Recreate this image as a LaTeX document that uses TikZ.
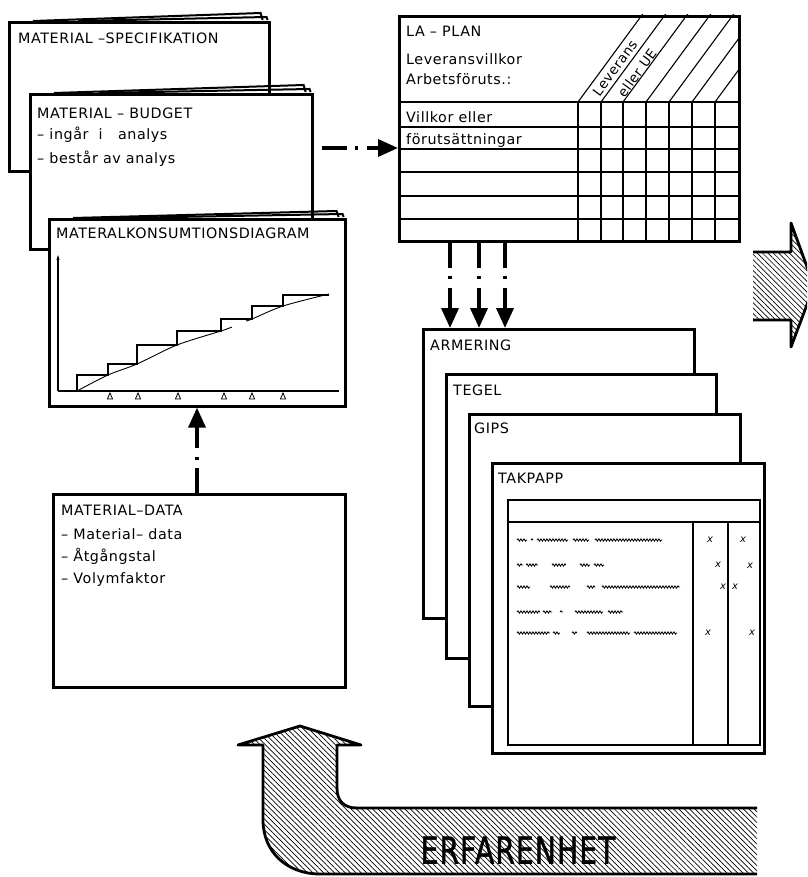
\documentclass[tikz,border=0pt]{standalone}
\usepackage{fontspec}
\setmainfont{DejaVu Sans}[LetterSpace=4]
\usetikzlibrary{arrows.meta,positioning,calc,patterns.meta,decorations.pathmorphing}

\begin{document}
\begin{tikzpicture}[x=1pt,y=-1pt,
  font=\fontsize{14.3}{16}\selectfont,>={Triangle[length=20pt,width=17pt]},
  sheet/.style={draw,line width=2.6pt,fill=white,anchor=north west,inner sep=0pt},
  back/.style={line width=2pt},
  lbl/.style={anchor=base west,inner sep=0pt},
  grid/.style={line width=1.1pt},
  flow/.style={->,line width=3.6pt,dash pattern=on 25pt off 8pt on 3pt off 9pt on 300pt off 1pt},
  hatch/.style={pattern={Lines[angle=-45,distance=3.8pt,line width=0.7pt]}},
  rim/.style={line width=2.8pt,line join=round},
  scrib/.style={line width=0.8pt,decorate,decoration={snake,amplitude=1.2pt,segment length=3pt}},
  tick/.style={font=\fontsize{10}{10}\selectfont\itshape,inner sep=0pt}]

\useasboundingbox (0,0) rectangle (807,877);
\clip (0,0) rectangle (807,877);

% left column, sheets from back to front
\node[sheet,minimum width=260pt,minimum height=149pt] (spec) at (8,21) {};
\draw[back] ([xshift=25pt]spec.north west) -- ([xshift=-10pt,yshift=8pt]spec.north east) -- ([xshift=-8pt,yshift=1pt]spec.north east);
\draw[back] ([xshift=70pt]spec.north west) -- ([xshift=-4pt,yshift=4pt]spec.north east) -- ([xshift=-3pt,yshift=1pt]spec.north east);
\node[lbl] (spec-t) at ($(spec.north west)+(10,23)$) {MATERIAL --SPECIFIKATION};

\node[sheet,minimum width=282pt,minimum height=155pt] (budget) at (29,93) {};
\draw[back] ([xshift=25pt]budget.north west) -- ([xshift=-10pt,yshift=8pt]budget.north east) -- ([xshift=-8pt,yshift=1pt]budget.north east);
\draw[back] ([xshift=70pt]budget.north west) -- ([xshift=-4pt,yshift=4pt]budget.north east) -- ([xshift=-3pt,yshift=1pt]budget.north east);
\node[lbl] (bud-t) at ($(budget.north west)+(8,26)$) {MATERIAL -- BUDGET};
\node[lbl] (bud-1) at ($(budget.north west)+(8,47)$) {-- ingår~ i~~ analys};
\node[lbl] (bud-2) at ($(budget.north west)+(8,71)$) {-- består av analys};

\node[sheet,minimum width=296pt,minimum height=187pt] (diag) at (48,218) {};
\draw[back] ([xshift=25pt]diag.north west) -- ([xshift=-10pt,yshift=7pt]diag.north east) -- ([xshift=-8pt,yshift=1pt]diag.north east);
\draw[back] ([xshift=70pt]diag.north west) -- ([xshift=-4pt,yshift=4pt]diag.north east) -- ([xshift=-3pt,yshift=1pt]diag.north east);
\node[lbl] (diag-t) at ($(diag.north west)+(8,20)$) {MATERALKONSUMTIONSDIAGRAM};
\begin{scope}[shift={(diag.north west)},line width=1.1pt]
  \draw[-{Stealth[length=5pt,width=3pt]}] (10,173) -- (10,37);
  \draw (10,173) -- (291,173);
  \draw (29,173) |- (60,157) |- (89,146) |- (129,127) |- (173,113) |- (204,101) |- (235,88) |- (281,77);
  \draw[line width=0.9pt] plot[smooth] coordinates {(29,173) (60,157) (89,146) (129,127) (173,113) (184,109)};
  \draw[line width=0.9pt] plot[smooth] coordinates {(198,103) (204,101) (235,88) (281,76)};
  \foreach \x in {62,90,130,176,204,235}
    \draw[line width=0.8pt] (\x,175) -- (\x-2.6,181) -- (\x+2.6,181) -- cycle;
\end{scope}

\node[sheet,minimum width=292pt,minimum height=193pt] (data) at (52,493) {};
\node[lbl] (data-t) at ($(data.north west)+(9,22)$) {MATERIAL--DATA};
\node[lbl] (data-1) at ($(data.north west)+(9,46)$) {-- Material-- data};
\node[lbl] (data-2) at ($(data.north west)+(9,68)$) {-- Åtgångstal};
\node[lbl] (data-3) at ($(data.north west)+(9,90)$) {-- Volymfaktor};

\coordinate (d-out) at ([xshift=145pt]data.north west);
\draw[flow] (d-out) -- (d-out |- diag.south);

% LA-plan table
\node[sheet,minimum width=340pt,minimum height=225pt] (laplan) at (398,15) {};
\node[lbl] (lap-t) at ($(laplan.north west)+(8,22)$) {LA -- PLAN};
\node[lbl] (lap-1) at ($(laplan.north west)+(8,50)$) {Leveransvillkor};
\node[lbl] (lap-2) at ($(laplan.north west)+(8,70)$) {Arbetsföruts.:};
\node[lbl] (lap-3) at ($(laplan.north west)+(8,108)$) {Villkor eller};
\node[lbl] (lap-4) at ($(laplan.north west)+(8,130)$) {förutsättningar};
\begin{scope}[shift={(laplan.north west)}]
  \foreach \y in {87,112,134,157,181,204}
    \draw[grid] (0,\y) -- (340,\y);
  \foreach \x in {180,203,225,248,271,294,317}
    \draw[grid] (\x,87) -- (\x,225);
  \begin{scope}
    \clip (0,0) rectangle (340,225);
    \foreach \x in {180,203,225,248,271,294,317}
      \draw[grid] (\x,87) -- ++(80,-108.75);
  \end{scope}
  \node[rotate=53.7,font=\fontsize{13.5}{14}\selectfont,inner sep=0pt] (lap-lev) at (217,53) {Leverans};
  \node[rotate=53.7,font=\fontsize{13.5}{14}\selectfont,inner sep=0pt] (lap-ue) at (239,58) {eller UE};
\end{scope}

\coordinate (b-out) at ($(budget.north east)+(8,55)$);
\draw[flow] (b-out) -- (b-out -| laplan.west);

% material sheets
\node[sheet,minimum width=271pt,minimum height=289pt] (armering) at (422,328) {};
\node[lbl] (arm-t) at ($(armering.north west)+(8,22)$) {ARMERING};
\node[sheet,minimum width=270pt,minimum height=284pt] (tegel) at (445,373) {};
\node[lbl] (teg-t) at ($(tegel.north west)+(8,22)$) {TEGEL};
\node[sheet,minimum width=271pt,minimum height=292pt] (gips) at (468,413) {};
\node[lbl] (gips-t) at ($(gips.north west)+(6,20)$) {GIPS};
\node[sheet,minimum width=272pt,minimum height=290pt] (takpapp) at (491,462) {};
\node[lbl] (tak-t) at ($(takpapp.north west)+(7,21)$) {TAKPAPP};
\begin{scope}[shift={(takpapp.north west)}]
  \draw[grid] (17,38) rectangle (269,283);
  \draw[grid] (17,60) -- (269,60);
  \draw[grid] (202,60) -- (202,283) (237,60) -- (237,283);
  \foreach \y/\ws in {78/{26/36,40/42,46/77,82/98,104/171},
                     103/{26/32,35/47,61/75,89/99,103/113},
                     125/{26/39,59/79,96/104,111/189},
                     150/{26/49,52/61,69/72,84/112,117/132},
                     171/{26/59,62/69,81/86,96/139,143/186}}
    \foreach \a/\b in \ws
      \draw[scrib] (\a,\y) -- (\b,\y);
  \foreach \p [count=\i] in {{219,78},{252,78},{227,103},{259,104},{232,125},{244,125},{217,171},{261,171}}
    \node[tick] (x\i) at (\p) {x};
\end{scope}

\foreach \d [count=\i] in {52,81,107} {
  \coordinate (l-out\i) at ([xshift=\d pt]laplan.south west);
  \draw[flow] (l-out\i) -- (l-out\i |- armering.north);
}

% hatched arrows
\path[hatch] (753,252) -- (791,252) -- (791,223) -- (814,286) -- (791,347) -- (791,320) -- (753,320) -- cycle;
\draw[rim] (753,252) -- (791,252) -- (791,223) -- (814,286) -- (791,347) -- (791,320) -- (753,320);

\path[hatch] (757,808) -- (357,808) .. controls (344,808) and (337,801) .. (337,788) -- (337,745) -- (361,745)
  -- (300,726) -- (238,745) -- (263,745) -- (263,820) .. controls (263,852) and (287,874) .. (320,874) -- (757,874) -- cycle;
\draw[rim] (757,808) -- (357,808) .. controls (344,808) and (337,801) .. (337,788) -- (337,745) -- (361,745)
  -- (300,726) -- (238,745) -- (263,745) -- (263,820) .. controls (263,852) and (287,874) .. (320,874) -- (757,874);
\node[font=\fontsize{37}{40}\selectfont\addfontfeature{FakeBold=1.5},inner sep=0pt] (erf) at (518,850) {\scalebox{0.76}[1]{ERFARENHET}};
\end{tikzpicture}
\end{document}
